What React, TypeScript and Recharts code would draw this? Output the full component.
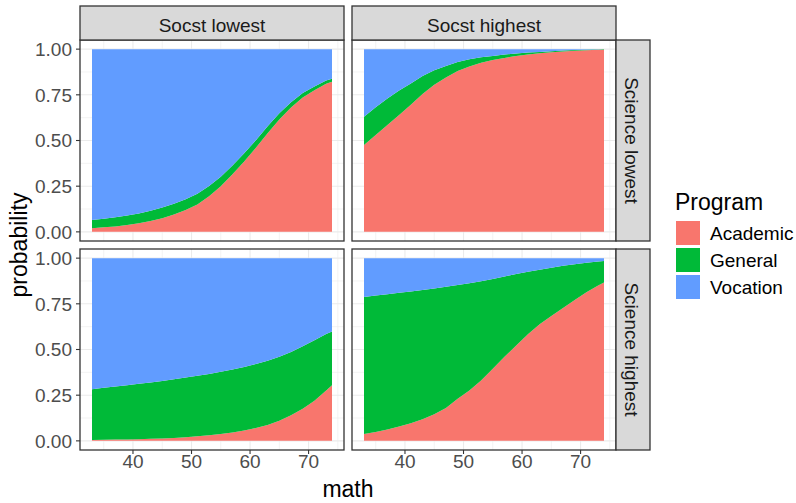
import React from 'react';
import { AreaChart, Area, XAxis, YAxis, CartesianGrid } from 'recharts';

const math = [33, 35, 37, 39, 41, 43, 45, 47, 49, 51, 53, 55, 57, 59, 61, 63, 65, 67, 69, 71, 73, 74];
const programs = ['Academic', 'General', 'Vocation'];
const programColors = ['#F8766D', '#00BA38', '#619CFF'];
const socstLabels = ['Socst lowest', 'Socst highest'];
const scienceLabels = ['Science lowest', 'Science highest'];
const xTicks = [40, 50, 60, 70];
const xMinor = [35, 45, 55, 65, 75];
const yTicks = [0, 0.25, 0.5, 0.75, 1];
const yMinor = [0.125, 0.375, 0.625, 0.875];

// Science lowest, Socst lowest
const sLoCLoAcademic = [0.02, 0.025, 0.03, 0.038, 0.047, 0.06, 0.075, 0.095, 0.12, 0.15, 0.195, 0.25, 0.315, 0.385, 0.46, 0.54, 0.615, 0.68, 0.735, 0.775, 0.81, 0.822];
const sLoCLoGeneral = [0.045, 0.047, 0.05, 0.052, 0.054, 0.056, 0.058, 0.059, 0.059, 0.058, 0.056, 0.052, 0.048, 0.045, 0.042, 0.038, 0.034, 0.03, 0.025, 0.021, 0.018, 0.016];
const sLoCLoVocation = [0.935, 0.928, 0.92, 0.91, 0.899, 0.884, 0.867, 0.846, 0.821, 0.792, 0.749, 0.698, 0.637, 0.57, 0.498, 0.422, 0.351, 0.29, 0.24, 0.204, 0.172, 0.162];

// Science lowest, Socst highest
const sLoCHiAcademic = [0.475, 0.53, 0.585, 0.64, 0.695, 0.755, 0.805, 0.845, 0.88, 0.905, 0.925, 0.94, 0.952, 0.962, 0.97, 0.977, 0.983, 0.987, 0.991, 0.994, 0.996, 0.997];
const sLoCHiGeneral = [0.155, 0.152, 0.145, 0.133, 0.117, 0.098, 0.08, 0.063, 0.05, 0.039, 0.03, 0.023, 0.018, 0.014, 0.011, 0.008, 0.006, 0.005, 0.004, 0.003, 0.002, 0.002];
const sLoCHiVocation = [0.37, 0.318, 0.27, 0.227, 0.188, 0.147, 0.115, 0.092, 0.07, 0.056, 0.045, 0.037, 0.03, 0.024, 0.019, 0.015, 0.011, 0.008, 0.005, 0.003, 0.002, 0.001];

// Science highest, Socst lowest
const sHiCLoAcademic = [0.005, 0.006, 0.007, 0.008, 0.009, 0.011, 0.013, 0.016, 0.02, 0.025, 0.031, 0.038, 0.046, 0.057, 0.07, 0.087, 0.11, 0.14, 0.176, 0.22, 0.275, 0.304];
const sHiCLoGeneral = [0.278, 0.284, 0.29, 0.297, 0.303, 0.309, 0.315, 0.321, 0.327, 0.331, 0.335, 0.34, 0.344, 0.347, 0.35, 0.351, 0.35, 0.347, 0.342, 0.33, 0.31, 0.294];
const sHiCLoVocation = [0.717, 0.71, 0.703, 0.695, 0.688, 0.68, 0.672, 0.663, 0.653, 0.644, 0.634, 0.622, 0.61, 0.596, 0.58, 0.562, 0.54, 0.513, 0.482, 0.45, 0.415, 0.402];

// Science highest, Socst highest
const sHiCHiAcademic = [0.038, 0.048, 0.062, 0.078, 0.096, 0.118, 0.145, 0.18, 0.23, 0.275, 0.33, 0.395, 0.46, 0.522, 0.583, 0.638, 0.683, 0.727, 0.771, 0.813, 0.85, 0.866];
const sHiCHiGeneral = [0.749, 0.747, 0.741, 0.732, 0.722, 0.708, 0.689, 0.663, 0.623, 0.587, 0.544, 0.491, 0.44, 0.391, 0.342, 0.299, 0.265, 0.231, 0.196, 0.162, 0.132, 0.119];
const sHiCHiVocation = [0.213, 0.205, 0.197, 0.19, 0.182, 0.174, 0.166, 0.157, 0.147, 0.138, 0.126, 0.114, 0.1, 0.087, 0.075, 0.063, 0.052, 0.042, 0.033, 0.025, 0.018, 0.015];

const FONT = '"Liberation Sans", Arial, sans-serif';

function buildRows(a: number[], g: number[], v: number[]) {
  return math.map((m, i) => ({ math: m, Academic: a[i], General: g[i], Vocation: v[i] }));
}

const panelsData = [
  [buildRows(sLoCLoAcademic, sLoCLoGeneral, sLoCLoVocation), buildRows(sLoCHiAcademic, sLoCHiGeneral, sLoCHiVocation)],
  [buildRows(sHiCLoAcademic, sHiCLoGeneral, sHiCLoVocation), buildRows(sHiCHiAcademic, sHiCHiGeneral, sHiCHiVocation)],
];

const PANEL_W = 264;
const PANEL_H = 201;
const COL_X = [80, 352];
const ROW_Y = [40, 249];
const Y_AXIS_W = 80;
const X_AXIS_H = 30;
const PAD = 8;

function Panel({ data, col, row }: { data: any[]; col: number; row: number }) {
  const showY = col === 0;
  const showX = row === 1;
  const left = showY ? COL_X[col] - Y_AXIS_W : COL_X[col];
  const width = PANEL_W + (showY ? Y_AXIS_W : 0);
  const bottomPad = showX ? 0 : PAD;
  const height = PAD + PANEL_H + (showX ? X_AXIS_H : 0) + bottomPad;
  return (
    <div style={{ position: 'absolute', left, top: ROW_Y[row] - PAD, width, height }}>
      <AreaChart width={width} height={height} data={data} margin={{ top: PAD, right: 0, bottom: bottomPad, left: 0 }}>
        <CartesianGrid stroke="#EBEBEB" strokeWidth={0.6} verticalValues={xMinor} horizontalValues={yMinor} />
        <CartesianGrid stroke="#EBEBEB" strokeWidth={1.1} verticalValues={xTicks} horizontalValues={yTicks} />
        <XAxis
          dataKey="math"
          type="number"
          domain={[30.95, 76.05]}
          allowDataOverflow
          ticks={xTicks}
          interval={0}
          hide={!showX}
          height={X_AXIS_H}
          axisLine={false}
          tickSize={4}
          tickMargin={1}
          tickLine={{ stroke: '#333333', strokeWidth: 1.1 }}
          tick={{ fill: '#4D4D4D', fontSize: 19, fontFamily: FONT }}
        />
        <YAxis
          type="number"
          domain={[-0.05, 1.05]}
          allowDataOverflow
          ticks={yTicks}
          interval={0}
          hide={!showY}
          width={Y_AXIS_W}
          axisLine={false}
          tickSize={4}
          tickMargin={4}
          tickFormatter={(v: number) => v.toFixed(2)}
          tickLine={{ stroke: '#333333', strokeWidth: 1.1 }}
          tick={{ fill: '#4D4D4D', fontSize: 19, fontFamily: FONT }}
        />
        {programs.map((p, i) => (
          <Area
            key={p}
            type="linear"
            dataKey={p}
            stackId="prob"
            fill={programColors[i]}
            fillOpacity={1}
            stroke="none"
            dot={false}
            activeDot={false}
            isAnimationActive={false}
          />
        ))}
      </AreaChart>
    </div>
  );
}

export default function App() {
  return (
    <div style={{ position: 'absolute', left: 0, top: 0, width: 796, height: 503, background: '#FFFFFF', fontFamily: FONT }}>
      {panelsData.map((rowData, r) => rowData.map((d, c) => <Panel key={`${r}-${c}`} data={d} col={c} row={r} />))}
      <svg width={796} height={503} style={{ position: 'absolute', left: 0, top: 0, pointerEvents: 'none' }}>
        {/* panel borders */}
        {ROW_Y.map((y, r) =>
          COL_X.map((x, c) => (
            <rect key={`b${r}${c}`} x={x} y={y} width={PANEL_W} height={PANEL_H} fill="none" stroke="#333333" strokeWidth={1.3} />
          ))
        )}
        {/* column strips */}
        {COL_X.map((x, c) => (
          <g key={`cs${c}`}>
            <rect x={x} y={6} width={PANEL_W} height={34} fill="#D9D9D9" stroke="#333333" strokeWidth={1.3} />
            <text x={x + PANEL_W / 2} y={32} textAnchor="middle" fontSize={19} fill="#1A1A1A" fontFamily={FONT}>
              {socstLabels[c]}
            </text>
          </g>
        ))}
        {/* row strips */}
        {ROW_Y.map((y, r) => (
          <g key={`rs${r}`}>
            <rect x={COL_X[1] + PANEL_W} y={y} width={34} height={PANEL_H} fill="#D9D9D9" stroke="#333333" strokeWidth={1.3} />
            <text
              x={624.5}
              y={y + PANEL_H / 2}
              textAnchor="middle"
              fontSize={19}
              fill="#1A1A1A"
              fontFamily={FONT}
              transform={`rotate(90, 624.5, ${y + PANEL_H / 2})`}
            >
              {scienceLabels[r]}
            </text>
          </g>
        ))}
        {/* axis titles */}
        <text x={27} y={245} textAnchor="middle" fontSize={23} fill="#000000" fontFamily={FONT} transform="rotate(-90, 27, 245)">
          probability
        </text>
        <text x={348} y={497} textAnchor="middle" fontSize={23} fill="#000000" fontFamily={FONT}>
          math
        </text>
        {/* legend */}
        <text x={675} y={210} fontSize={23} fill="#000000" fontFamily={FONT}>
          Program
        </text>
        {programs.map((p, i) => (
          <g key={`lg${p}`}>
            <rect x={676} y={221 + i * 27} width={24} height={24} fill={programColors[i]} />
            <text x={710} y={233 + i * 27 + 7} fontSize={19} fill="#000000" fontFamily={FONT}>
              {p}
            </text>
          </g>
        ))}
      </svg>
    </div>
  );
}
